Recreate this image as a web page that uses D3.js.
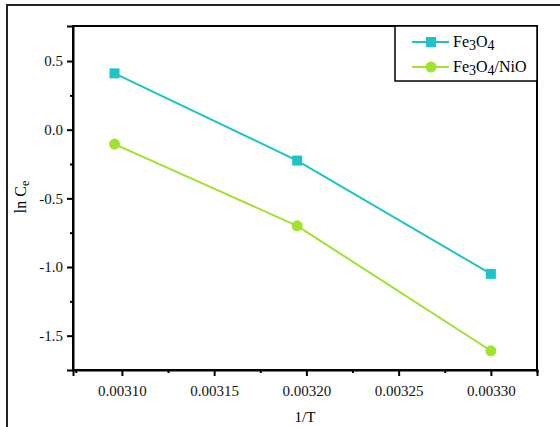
<!DOCTYPE html>
<html>
<head>
<meta charset="utf-8">
<script src="https://cdn.jsdelivr.net/npm/d3@7"></script>
<style>
  body { margin: 0; background: #fff; }
  svg, svg text { font-family: "Liberation Serif", "Times New Roman", serif; }
</style>
</head>
<body>
<div id="chart"></div>
<script>
// data
const invT = [0.003096, 0.003195, 0.003300];
const fe3o4 = [0.41, -0.225, -1.05];
const fe3o4NiO = [-0.105, -0.70, -1.61];
const xTicks = [0.00310, 0.00315, 0.00320, 0.00325, 0.00330];
const yTicks = [0.5, 0.0, -0.5, -1.0, -1.5];

const W = 560, H = 427;
const margin = { left: 73, top: 26, right: 23, bottom: 57 };
const cyan = '#1cc4c9', green = '#9fe22f';

const svg = d3.select('#chart').append('svg')
  .attr('width', W).attr('height', H);

// outer frame (only left and top edges show inside the window)
svg.append('rect')
  .attr('x', 7).attr('y', 5)
  .attr('width', W).attr('height', H)
  .attr('fill', 'none').attr('stroke', '#222').attr('stroke-width', 2);

const x = d3.scaleLinear().domain([0.0030735, 0.003325])
  .range([margin.left, W - margin.right]);
const y = d3.scaleLinear().domain([-1.75, 0.755])
  .range([H - margin.bottom, margin.top]);

// plot box
svg.append('rect')
  .attr('x', x.range()[0]).attr('y', y.range()[1])
  .attr('width', x.range()[1] - x.range()[0])
  .attr('height', y.range()[0] - y.range()[1])
  .attr('fill', 'none').attr('stroke', '#000').attr('stroke-width', 2);

// hyphen instead of unicode minus, like the original
const yFmt = d => d3.format('.1f')(d).replace('\u2212', '-');

// x axis with major and minor ticks
svg.append('g').attr('transform', `translate(0,${y.range()[0]})`)
  .call(d3.axisBottom(x).tickValues(xTicks).tickFormat(d3.format('.5f')).tickSize(6).tickPadding(9));
svg.append('g').attr('transform', `translate(0,${y.range()[0]})`)
  .call(d3.axisBottom(x).tickValues([0.003075, 0.003125, 0.003175, 0.003225, 0.003275, 0.003325])
    .tickFormat('').tickSize(3))
  .select('.domain').remove();

svg.append('g').attr('transform', `translate(${x.range()[0]},0)`)
  .call(d3.axisLeft(y).tickValues(yTicks).tickFormat(yFmt).tickSize(6).tickPadding(4));
svg.append('g').attr('transform', `translate(${x.range()[0]},0)`)
  .call(d3.axisLeft(y).tickValues([0.25, -0.25, -0.75, -1.25]).tickFormat('').tickSize(3))
  .select('.domain').remove();

svg.selectAll('g').attr('font-family', null);
svg.selectAll('.domain').attr('stroke-width', 2);
svg.selectAll('.tick line').attr('stroke-width', 2);
svg.selectAll('.tick text').attr('font-size', 15).attr('fill', '#111');

// axis titles
svg.append('text')
  .attr('x', (x.range()[0] + x.range()[1]) / 2).attr('y', 422)
  .attr('text-anchor', 'middle').attr('font-size', 15).text('1/T');

const yl = svg.append('text')
  .attr('transform', 'translate(26,197) rotate(-90)')
  .attr('text-anchor', 'middle').attr('font-size', 16);
yl.append('tspan').text('ln C');
yl.append('tspan').attr('font-size', 12).attr('dy', 3).text('e');

// series
const series = [
  { name: 'Fe3O4', values: fe3o4, color: cyan, shape: 'square' },
  { name: 'Fe3O4/NiO', values: fe3o4NiO, color: green, shape: 'circle' }
];

const line = d3.line().x(d => x(d[0])).y(d => y(d[1]));

function drawMarker(g, cx, cy, s) {
  if (s.shape === 'square') {
    g.append('rect').attr('x', cx - 5).attr('y', cy - 5)
      .attr('width', 10).attr('height', 10).attr('fill', s.color);
  } else {
    g.append('circle').attr('cx', cx).attr('cy', cy).attr('r', 5.5).attr('fill', s.color);
  }
}

series.forEach(s => {
  const pts = invT.map((t, i) => [t, s.values[i]]);
  svg.append('path').datum(pts)
    .attr('d', line).attr('fill', 'none')
    .attr('stroke', s.color).attr('stroke-width', 2);
  const g = svg.append('g');
  pts.forEach(p => drawMarker(g, x(p[0]), y(p[1]), s));
});

// legend
const lg = svg.append('g');
lg.append('rect').attr('x', 395).attr('y', 26).attr('width', 142).attr('height', 55)
  .attr('fill', '#fff').attr('stroke', '#000').attr('stroke-width', 1.5);

series.forEach((s, i) => {
  const cy = 42 + i * 25;
  lg.append('line').attr('x1', 412).attr('x2', 449).attr('y1', cy).attr('y2', cy)
    .attr('stroke', s.color).attr('stroke-width', 2);
  drawMarker(lg, 431, cy, s);
  const t = lg.append('text').attr('x', 453).attr('y', cy + 5).attr('font-size', 16);
  t.append('tspan').text('Fe');
  t.append('tspan').attr('dy', 3).attr('font-size', 14).text('3');
  t.append('tspan').attr('dy', -3).text('O');
  t.append('tspan').attr('dy', 3).attr('font-size', 14).text('4');
  if (s.name.includes('/')) t.append('tspan').attr('dy', -3).text('/NiO');
});
</script>
</body>
</html>
